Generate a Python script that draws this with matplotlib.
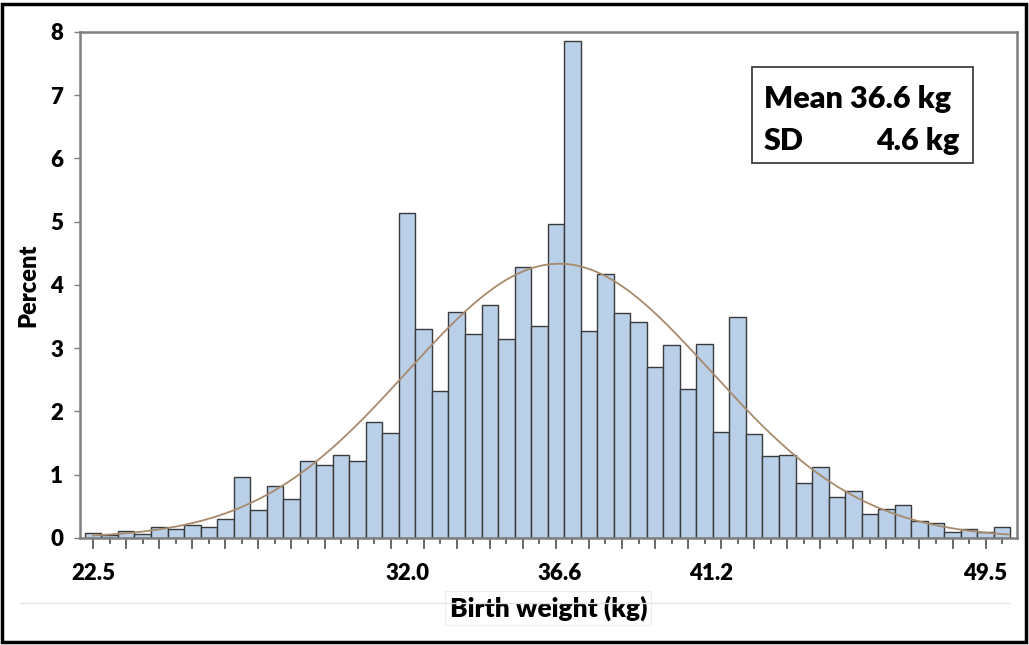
import numpy as np
import matplotlib.pyplot as plt
from matplotlib.patches import Rectangle
from matplotlib.lines import Line2D

plt.rcParams['font.family'] = ['Lato', 'DejaVu Sans']

# bin centres (kg), 0.5 kg wide
bin_centers = np.arange(22.5, 50.01, 0.5)
percent = [0.08, 0.04, 0.11, 0.06, 0.18, 0.14, 0.21, 0.18, 0.30, 0.96,
           0.45, 0.82, 0.62, 1.21, 1.15, 1.31, 1.21, 1.83, 1.66, 5.14,
           3.31, 2.32, 3.58, 3.23, 3.68, 3.14, 4.29, 3.35, 4.96, 7.86,
           3.28, 4.17, 3.56, 3.41, 2.70, 3.05, 2.35, 3.07, 1.68, 3.49,
           1.64, 1.29, 1.31, 0.87, 1.12, 0.65, 0.74, 0.38, 0.46, 0.52,
           0.27, 0.23, 0.10, 0.15, 0.10, 0.18]
mean_kg = 36.6
sd_kg = 4.6
bin_width = 0.5
tick_labels = ['22.5', '32.0', '36.6', '41.2', '49.5']

fig = plt.figure(figsize=(10.29, 6.45), dpi=100)
ax = fig.add_axes([0.0777, 0.1659, 0.9106, 0.7845])

ax.bar(bin_centers, percent, width=bin_width, color='#B9D0E8',
       edgecolor='#3A3A3A', linewidth=1.0, zorder=2)

# fitted normal curve, scaled to percent per bin
xs = np.linspace(22.5, 50.2, 400)
pdf = 100 * bin_width * np.exp(-0.5 * ((xs - mean_kg) / sd_kg) ** 2) / (sd_kg * np.sqrt(2 * np.pi))
ax.plot(xs, pdf, color='#A88A6C', linewidth=1.3, zorder=3)

ax.set_xlim(22.1, 50.45)
ax.set_ylim(0, 8)

for s in ax.spines.values():
    s.set_color('#7F7F7F')
    s.set_linewidth(1.8)

ax.set_yticks(range(0, 9))
ax.tick_params(axis='y', length=4, width=1, color='#7F7F7F', pad=8,
               labelsize=16)
for lb in ax.get_yticklabels():
    lb.set_fontweight('heavy')

ax.set_xticks([float(t) for t in tick_labels])
ax.set_xticklabels(tick_labels, fontsize=16, fontweight='heavy')
ax.tick_params(axis='x', which='major', length=0, pad=18)
# tick marks: long every 1 kg, short in between
for xv in np.arange(22.5, 50.01, 0.5):
    long_tick = abs((xv - 22.5) % 1.0) < 1e-6
    ax.plot([xv, xv], [0, -0.16 if long_tick else -0.08],
            color='#5A5A5A', lw=1.3, clip_on=False, zorder=1)

ax.set_ylabel('Percent', fontsize=17, fontweight='heavy', labelpad=8)
ax.set_xlabel('Birth weight (kg)', fontsize=19, fontweight='heavy',
              labelpad=8,
              bbox=dict(facecolor='white', edgecolor='#EEEEEE', lw=0.8,
                        pad=3))
ax.xaxis.label.set_zorder(5)

# stats box
fig.patches.append(Rectangle((752 / 1029, 1 - 163 / 645), 221 / 1029,
                             96 / 645, transform=fig.transFigure,
                             fill=False, edgecolor='#404040', lw=1.3))
fig.text(764 / 1029, 1 - 108 / 645, 'Mean 36.6 kg', fontsize=22,
         fontweight='heavy', ha='left', va='baseline')
fig.text(764 / 1029, 1 - 150 / 645, 'SD', fontsize=22,
         fontweight='heavy', ha='left', va='baseline')
fig.text(959 / 1029, 1 - 150 / 645, '4.6 kg', fontsize=22,
         fontweight='heavy', ha='right', va='baseline')

# faint separator line under the chart
fig.lines.append(Line2D([20 / 1029, 1010 / 1029], [1 - 603 / 645] * 2,
                        transform=fig.transFigure, color='#E6E6E6', lw=1,
                        zorder=0))
# outer black frame
fig.patches.append(Rectangle((2 / 1029, 3 / 645), 1024 / 1029, 638 / 645,
                             transform=fig.transFigure, fill=False,
                             edgecolor='black', lw=2.5))

fig.savefig('out.png', dpi=100)
